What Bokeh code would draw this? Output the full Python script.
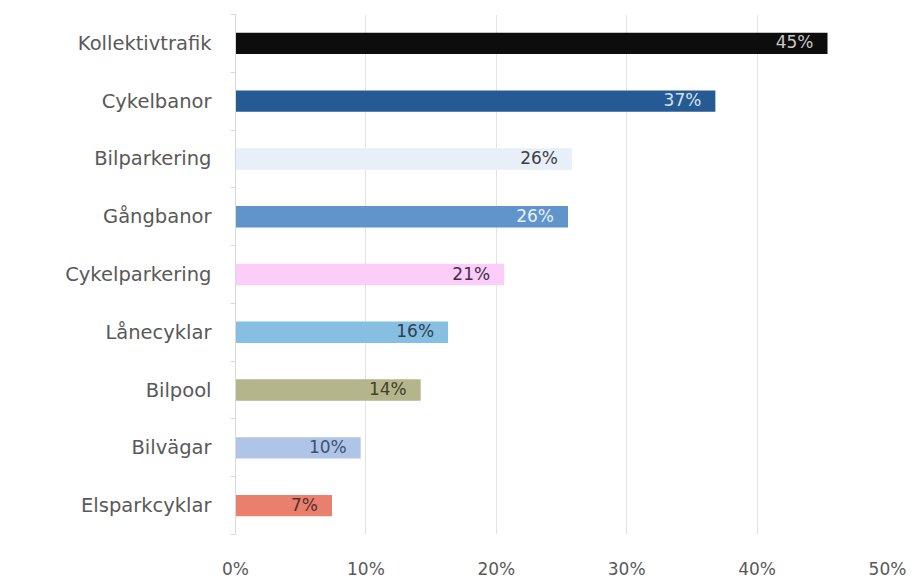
from bokeh.plotting import figure
from bokeh.models import ColumnDataSource, FixedTicker, Range1d, LabelSet
from bokeh.core.properties import value
from bokeh.embed import file_html
from bokeh.resources import INLINE

categories = ["Kollektivtrafik", "Cykelbanor", "Bilparkering", "Gångbanor",
              "Cykelparkering", "Lånecyklar", "Bilpool", "Bilvägar", "Elsparkcyklar"]
values = [45.4, 36.8, 25.8, 25.5, 20.6, 16.3, 14.2, 9.6, 7.4]
labels = ["45%", "37%", "26%", "26%", "21%", "16%", "14%", "10%", "7%"]
colors = ["#0d0d0d", "#255a94", "#e9eff9", "#6294cc", "#fbcdf9",
          "#86bfe1", "#b5b58b", "#aec5e7", "#e9806e"]
label_colors = ["#c8c8c8", "#d6e2f2", "#404040", "#e8f0fa", "#403040",
                "#304050", "#404030", "#405070", "#503030"]
x_ticks = [0, 10, 20, 30, 40, 50]
x_tick_labels = ["0%", "10%", "20%", "30%", "40%", "50%"]

n = len(categories)
ypos = [n - 1 - i for i in range(n)]

src = ColumnDataSource(dict(y=ypos, v=values, c=colors, lab=labels, lc=label_colors))

FONT = "DejaVu Sans"
p = figure(width=914, height=581, output_backend="svg", toolbar_location=None,
           x_range=Range1d(0, 50), y_range=Range1d(-0.5, n - 0.5),
           min_border_left=235, min_border_right=27, min_border_top=14,
           min_border_bottom=41)
p.outline_line_color = None
p.background_fill_color = "white"

p.hbar(y="y", left=0, right="v", height=0.37, fill_color="c", line_color=None, source=src)

p.add_layout(LabelSet(x="v", y="y", text="lab", source=src, text_align="right",
                      text_baseline="middle", x_offset=-14, y_offset=1,
                      text_font_size="17px", text_font=value(FONT), text_color="lc"))

# x axis
xa = p.xaxis[0]
xa.ticker = FixedTicker(ticks=x_ticks)
xa.major_label_overrides = {t: l for t, l in zip(x_ticks, x_tick_labels)}
xa.axis_line_color = None
xa.major_tick_line_color = None
xa.minor_tick_line_color = None
xa.major_label_standoff = 18
xa.major_label_text_font = FONT
xa.major_label_text_font_size = "17px"
xa.major_label_text_color = "#595959"

# y axis
ya = p.yaxis[0]
ya.ticker = FixedTicker(ticks=ypos, minor_ticks=[k - 0.5 for k in range(n + 1)])
ya.major_label_overrides = {y: c for y, c in zip(ypos, categories)}
ya.axis_line_color = "#d9d9d9"
ya.major_tick_line_color = None
ya.minor_tick_line_color = "#d9d9d9"
ya.minor_tick_out = 5
ya.minor_tick_in = 0
ya.major_label_standoff = 18
ya.major_label_text_font = FONT
ya.major_label_text_font_size = "19.5px"
ya.major_label_text_color = "#595959"

p.xgrid.grid_line_color = "#e3e3e3"
p.xgrid.ticker = FixedTicker(ticks=x_ticks[1:])
p.ygrid.grid_line_color = None

open("out.html", "w").write(file_html(p, INLINE))
